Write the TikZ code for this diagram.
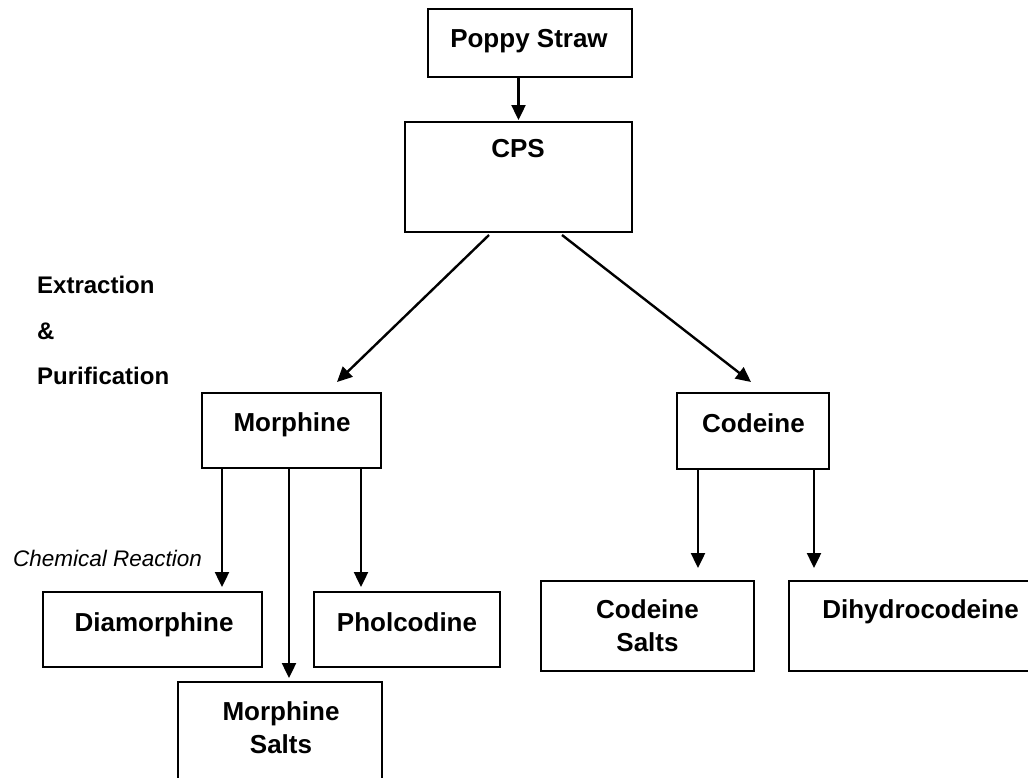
\documentclass[tikz,border=0pt]{standalone}
\usepackage{fontspec}
\setmainfont{Liberation Sans}
\usetikzlibrary{arrows.meta,calc}
\begin{document}
\begin{tikzpicture}[x=1pt,y=-1pt,
  box/.style={draw=black,line width=2pt,inner sep=0pt,rectangle},
  lbl/.style={font=\fontsize{26}{32}\selectfont\bfseries,inner sep=0pt,anchor=base},
  lbl2/.style={font=\fontsize{26}{33}\selectfont\bfseries,inner sep=0pt,anchor=north,align=center},
  side/.style={font=\fontsize{24}{28}\selectfont\bfseries,inner sep=0pt,anchor=base west},
  note/.style={font=\fontsize{22.5}{27}\selectfont\itshape,inner sep=0pt,anchor=base west},
  arr/.style={line width=2.4pt,-{Triangle[length=15pt,width=14pt]}}]
\useasboundingbox (0,0) rectangle (1028,777);
\clip (0,0) rectangle (1028,777);
% boxes
\node[box,minimum width=204pt,minimum height=68pt] (poppy) at (530,43) {};
\node[box,minimum width=227pt,minimum height=110pt] (cps) at (518.5,177) {};
\node[box,minimum width=179pt,minimum height=75pt] (morph) at (291.5,430.5) {};
\node[box,minimum width=152pt,minimum height=76pt] (cod) at (753,431) {};
\node[box,minimum width=219pt,minimum height=75pt] (diam) at (152.5,629.5) {};
\node[box,minimum width=186pt,minimum height=75pt] (phol) at (407,629.5) {};
\node[box,minimum width=204pt,minimum height=118pt] (msalts) at (280,741) {};
\node[box,minimum width=213pt,minimum height=90pt] (csalts) at (647.5,626) {};
\node[box,minimum width=266pt,minimum height=90pt] (dihyd) at (922,626) {};
% texts
\node[lbl] (tpoppy) at (529,47) {Poppy Straw};
\node[lbl] (tcps) at (518,157) {CPS};
\node[lbl] (tmorph) at (292,431) {Morphine};
\node[lbl] (tcod) at (753.5,432) {Codeine};
\node[lbl] (tdiam) at (154,631) {Diamorphine};
\node[lbl] (tphol) at (407,631) {Pholcodine};
\node[lbl2] (tmsalts) at (281,701) {Morphine\\Salts};
\node[lbl2] (tcsalts) at (647.5,599) {Codeine\\Salts};
\node[lbl] (tdihyd) at (920.5,618) {Dihydrocodeine};
\node[side] (ext) at (37,293) {Extraction};
\node[side] (amp) at (37,339) {\&};
\node[side] (pur) at (37,384) {Purification};
\node[note] (chem) at (13,566) {Chemical Reaction};
% connectors
\draw[arr,shorten >=1pt] (cps.north |- poppy.south) -- (cps.north);
\draw[arr] ($(cps.south west)+(85,2)$) -- ($(morph.north west)+(136,-10)$);
\draw[arr] ($(cps.south west)+(158,2)$) -- ($(cod.north west)+(75,-10)$);
\draw[arr,shorten >=4pt] ($(morph.south west)+(21,0)$) coordinate (m1) -- (m1 |- diam.north);
\draw[arr,shorten >=3pt] ($(morph.south west)+(88,0)$) coordinate (m2) -- (m2 |- msalts.north);
\draw[arr,shorten >=4pt] ($(morph.south east)+(-21,0)$) coordinate (m3) -- (m3 |- phol.north);
\draw[arr,shorten >=12pt] ($(cod.south west)+(22,0)$) coordinate (c1) -- (c1 |- csalts.north);
\draw[arr,shorten >=12pt] ($(cod.south east)+(-16,0)$) coordinate (c2) -- (c2 |- dihyd.north);
\end{tikzpicture}
\end{document}
